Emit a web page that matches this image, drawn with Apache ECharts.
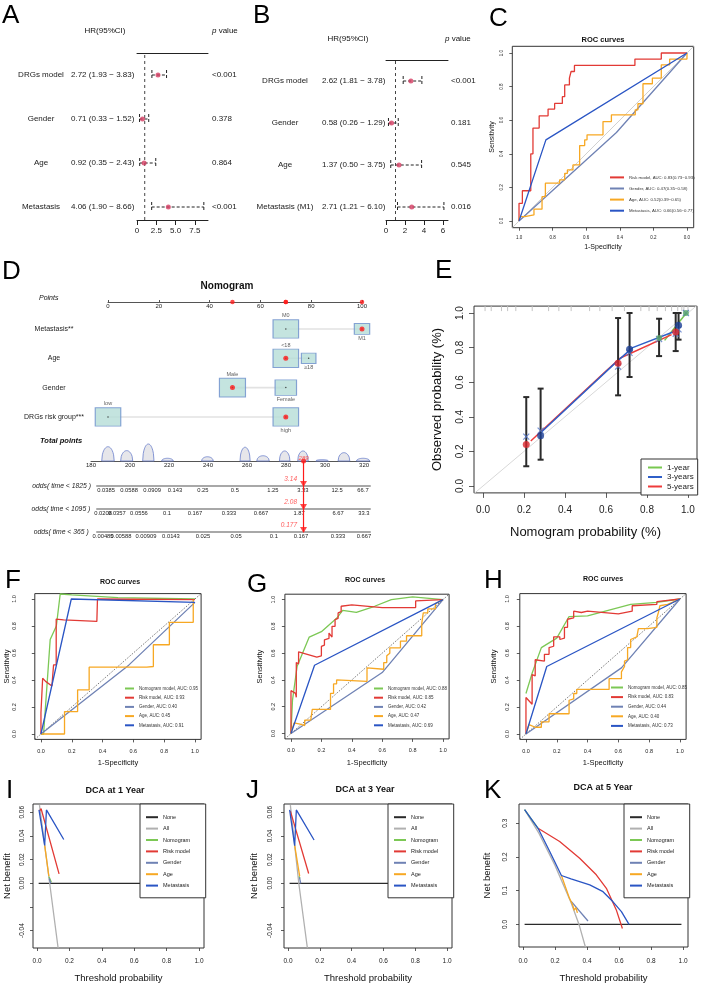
<!DOCTYPE html>
<html>
<head>
<meta charset="utf-8">
<title>DRGs model figure</title>
<script src="https://cdn.jsdelivr.net/npm/echarts@6.0.0/dist/echarts.min.js"></script>
<style>
  html, body { margin: 0; padding: 0; background: #fff; }
  .panel { position: absolute; left: 0; top: 0; width: 709px; height: 993px; }
</style>
</head>
<body>
<div id="pA" class="panel"></div>
<div id="pB" class="panel"></div>
<div id="pC" class="panel"></div>
<div id="pD" class="panel"></div>
<div id="pE" class="panel"></div>
<div id="pF" class="panel"></div>
<div id="pG" class="panel"></div>
<div id="pH" class="panel"></div>
<div id="pI" class="panel"></div>
<div id="pJ" class="panel"></div>
<div id="pK" class="panel"></div>
<script>
"use strict"

// ---- A: univariate cox ----
const uniVars = ['DRGs model', 'Gender', 'Age', 'Metastasis'];
const uniHR = [2.72, 0.71, 0.92, 4.06];
const uniLo = [1.93, 0.33, 0.35, 1.90];
const uniHi = [3.83, 1.52, 2.43, 8.66];
const uniP = ['<0.001', '0.378', '0.864', '<0.001'];

// ---- B: multivariate cox ----
const mulVars = ['DRGs model', 'Gender', 'Age', 'Metastasis (M1)'];
const mulHR = [2.62, 0.58, 1.37, 2.71];
const mulLo = [1.81, 0.26, 0.50, 1.21];
const mulHi = [3.78, 1.29, 3.75, 6.10];
const mulP = ['<0.001', '0.181', '0.545', '0.016'];

// ---- C: ROC (specificity, sensitivity) ----
const cNames = ['Risk model, AUC: 0.83(0.73\u22120.93)', 'Gender, AUC: 0.47(0.35\u22120.58)', 'Age, AUC: 0.52(0.39\u22120.65)', 'Metastasis, AUC: 0.66(0.56\u22120.77)'];
const cRisk = [[1,0],[1,0.105],[0.98,0.105],[0.98,0.18],[0.93,0.18],[0.93,0.40],[0.917,0.40],[0.917,0.553],[0.88,0.553],[0.88,0.626],[0.827,0.626],[0.827,0.666],[0.788,0.666],[0.788,0.70],[0.742,0.70],[0.742,0.74],[0.728,0.74],[0.728,0.81],[0.70,0.81],[0.70,0.85],[0.69,0.85],[0.69,0.89],[0.67,0.89],[0.67,0.926],[0.31,0.926],[0.31,0.964],[0.153,0.964],[0.153,1],[0,1]];
const cGender = [[1,0],[0.42,0.527],[0,1]];
const cAge = [[1,0],[0.996,0],[0.996,0.026],[0.966,0.026],[0.966,0.036],[0.911,0.036],[0.911,0.07],[0.863,0.07],[0.863,0.145],[0.843,0.145],[0.843,0.225],[0.758,0.225],[0.758,0.245],[0.728,0.245],[0.728,0.284],[0.712,0.284],[0.712,0.304],[0.679,0.304],[0.679,0.334],[0.639,0.334],[0.639,0.449],[0.609,0.449],[0.609,0.483],[0.595,0.483],[0.595,0.513],[0.5,0.513],[0.5,0.592],[0.45,0.592],[0.45,0.632],[0.308,0.632],[0.308,0.662],[0.292,0.662],[0.292,0.698],[0.262,0.698],[0.262,0.817],[0.206,0.817],[0.206,0.851],[0.153,0.851],[0.153,0.93],[0.103,0.93],[0.103,0.964],[0,0.964],[0,1]];
const cMeta = [[1,0],[0.84,0.483],[0,1]];

// ---- D: nomogram ----
const nomoVars = ['Metastasis**', 'Age', 'Gender', 'DRGs risk group***'];
const nomoLevels = [['M0', 'M1'], ['<18', '\u226518'], ['Male', 'Female'], ['low', 'high']];
const nomoPoints = [[70, 100], [70, 79], [49, 70], [0, 70]];
const nomoWeight = [[0.85, 0.15], [0.85, 0.12], [0.9, 0.5], [0.85, 0.85]];
const nomoPick = [1, 0, 0, 1];
const totalPoints = 289;
// total points density bumps: centre, half width, relative height
const totalBumps = [[188.7,3.2,0.84],[198.3,3.1,0.61],[209.4,2.9,1.0],[219.2,3.0,0.16],[239.7,3.0,0.25],[259.0,2.6,0.81],[268.2,3.2,0.31],[279.3,2.7,0.59],[288.7,2.7,0.59],[298.5,3.2,0.08],[309.7,3.0,0.49],[319.5,3.4,0.16]];
const oddsRows = ['odds( time < 1825 )', 'odds( time < 1095 )', 'odds( time < 365 )'];
const oddsLabels = [
  ['0.0385','0.0588','0.0909','0.143','0.25','0.5','1.25','3.33','12.5','66.7'],
  ['0.0208','0.0357','0.0556','0.1','0.167','0.333','0.667','1.87','6.67','33.3'],
  ['0.00485','0.00588','0.00909','0.0143','0.025','0.05','0.1','0.167','0.333','0.667']
];
const oddsAt = [
  [187.7,199.5,211.3,223.1,237.4,253.8,273.3,288.7,306.2,319.5],
  [186.2,193.3,204.6,219.0,233.3,250.8,267.2,286.7,306.7,320.0],
  [186.2,195.4,208.2,221.0,237.4,254.4,273.8,287.7,306.7,320.0]
];
const oddsPred = ['3.14', '2.08', '0.177'];

// ---- E: calibration ----
const cal1yObs = [[0.86,0.855],[0.99,1.0]];
const cal3yObs = [[0.281,0.29],[0.715,0.79],[0.954,0.93]];
const cal5yObs = [[0.211,0.24],[0.659,0.71],[0.94,0.89]];
const calCorrected = [[0.211,0.285],[0.281,0.32],[0.659,0.69],[0.715,0.77],[0.859,0.85],[0.94,0.88],[0.954,0.905],[0.99,1.0]];
const calCI = [[0.211,0.114,0.514],[0.281,0.152,0.563],[0.659,0.524,0.971],[0.715,0.63,1.0],[0.859,0.751,0.967],[0.94,0.78,1.0],[0.954,0.846,1.0]];
const cal1yLine = [[0.886,0.842],[0.992,1.0]];
const cal3yLine = [[0.276,0.302],[0.65,0.716],[0.73,0.80],[0.927,0.89]];
const cal5yLine = [[0.233,0.26],[0.60,0.665],[0.67,0.74],[0.92,0.875]];
const calRug = [0.01,0.04,0.09,0.12,0.16,0.24,0.32,0.37,0.43,0.52,0.57,0.63,0.69,0.77,0.81,0.85,0.89,0.92,0.95,0.97,0.98,1.0];

// ---- F/G/H: ROC (1-specificity, sensitivity) ----
const rocNames = ['Nomogram model', 'Risk model', 'Gender', 'Age', 'Metastasis'];
const fAUC = ['0.95', '0.93', '0.40', '0.45', '0.91'];
const fNomo = [[0,0],[0.017,0],[0.06,0.70],[0.1,0.8],[0.125,1.037],[0.2,1.03],[0.5,1.01],[1,1.0]];
const fRisk = [[0,0],[0,0.158],[0.011,0.158],[0.011,0.413],[0.03,0.39],[0.071,0.356],[0.082,0.35],[0.082,0.512],[0.099,0.512],[0.099,0.851],[0.147,0.846],[0.363,0.834],[0.367,1.0],[1,0.995]];
const fGender = [[0,0],[0.57,0.51],[1,0.975]];
const fAge = [[0,0],[0.153,0],[0.153,0.166],[0.238,0.166],[0.238,0.327],[0.313,0.327],[0.313,0.495],[0.687,0.495],[0.73,0.5],[0.73,0.661],[0.834,0.661],[0.834,0.827],[0.989,0.827],[0.989,0.995]];
const fMeta = [[0,0],[0.197,1.0],[1,0.975]];

const gAUC = ['0.88', '0.85', '0.42', '0.47', '0.69'];
const gNomo = [[0,0],[0.01,0.25],[0.04,0.5],[0.12,0.72],[0.2,0.76],[0.3,0.86],[0.34,0.92],[0.43,0.905],[0.55,0.95],[0.66,1.0],[0.8,1.02],[1,1.0]];
const gRisk = [[0,0],[0,0.32],[0.03,0.30],[0.035,0.27],[0.035,0.53],[0.05,0.52],[0.05,0.61],[0.17,0.57],[0.2,0.58],[0.2,0.65],[0.22,0.66],[0.22,0.70],[0.25,0.71],[0.25,0.75],[0.27,0.72],[0.27,0.80],[0.29,0.80],[0.29,0.85],[0.31,0.86],[0.31,0.90],[0.33,0.91],[0.33,0.95],[0.4,0.96],[0.6,0.94],[0.82,0.94],[0.82,0.99],[1,1]];
const gGender = [[0,0],[0.6,0.455],[1,1]];
const gAge = [[0,0],[0.02,0.08],[0.06,0.07],[0.09,0.06],[0.09,0.1],[0.13,0.1],[0.14,0.18],[0.26,0.18],[0.26,0.3],[0.28,0.3],[0.28,0.37],[0.3,0.37],[0.3,0.4],[0.5,0.39],[0.5,0.49],[0.61,0.48],[0.61,0.53],[0.63,0.53],[0.63,0.58],[0.65,0.6],[0.65,0.64],[0.72,0.64],[0.72,0.69],[0.76,0.69],[0.76,0.73],[0.86,0.73],[0.86,0.82],[0.87,0.82],[0.87,0.9],[0.9,0.9],[0.9,0.93],[0.95,0.93],[0.95,0.97],[1,1]];
const gMeta = [[0,0],[0.155,0.51],[1,1]];

const hAUC = ['0.85', '0.83', '0.44', '0.40', '0.73'];
const hNomo = [[0,0.3],[0.04,0.45],[0.1,0.64],[0.2,0.71],[0.28,0.87],[0.4,0.875],[0.68,0.96],[0.85,0.975],[1,1]];
const hRisk = [[0,0],[0,0.27],[0.04,0.22],[0.04,0.44],[0.06,0.43],[0.06,0.55],[0.12,0.54],[0.12,0.59],[0.15,0.59],[0.15,0.64],[0.18,0.65],[0.18,0.72],[0.22,0.72],[0.22,0.70],[0.25,0.71],[0.25,0.79],[0.27,0.79],[0.27,0.85],[0.31,0.86],[0.31,0.91],[0.36,0.9],[0.4,0.91],[0.6,0.89],[0.69,0.91],[0.69,0.95],[0.85,0.96],[0.85,0.98],[1,1]];
const hGender = [[0,0],[0.62,0.49],[1,1]];
const hAge = [[0,0],[0.02,0.07],[0.06,0.05],[0.1,0.05],[0.1,0.09],[0.15,0.09],[0.15,0.15],[0.28,0.15],[0.28,0.25],[0.31,0.26],[0.31,0.3],[0.33,0.3],[0.33,0.33],[0.54,0.33],[0.54,0.41],[0.62,0.41],[0.62,0.46],[0.64,0.5],[0.64,0.54],[0.66,0.55],[0.66,0.64],[0.68,0.64],[0.68,0.7],[0.72,0.72],[0.73,0.78],[0.79,0.78],[0.85,0.79],[0.85,0.86],[0.86,0.9],[0.87,0.95],[0.92,0.96],[1,1]];
const hMeta = [[0,0],[0.135,0.5],[1,1]];

// ---- I/J/K: decision curves (threshold, net benefit) ----
const dcaNames = ['None', 'All', 'Nomogram', 'Risk model', 'Gender', 'Age', 'Metastasis'];
const iNone = [[0.01,0],[0.99,0]];
const iAll = [[0.015,0.066],[0.078,0],[0.13,-0.0547]];
const iNomo = [[0.074,0.0056],[0.088,0.0008]];
const iRisk = [[0.015,0.061],[0.025,0.063],[0.136,0.008]];
const iGender = [[0.075,0.004],[0.085,0.0]];
const iAge = [[0.047,0.032],[0.073,0.006]];
const iMeta = [[0.012,0.062],[0.047,0.032],[0.058,0.062],[0.165,0.037]];

const jNone = [[0.01,0],[0.99,0]];
const jAll = [[0.015,0.066],[0.068,0],[0.122,-0.0547]];
const jNomo = [[0.07,0.006],[0.075,0.004]];
const jRisk = [[0.015,0.061],[0.021,0.062],[0.13,0.0083]];
const jGender = [[0.072,0.005],[0.08,0.0]];
const jAge = [[0.042,0.032],[0.0735,0.006]];
const jMeta = [[0.0105,0.062],[0.042,0.0318],[0.0525,0.062],[0.164,0.0366]];

const kNone = [[0.01,0],[0.99,0]];
const kAll = [[0.01,0.34],[0.1,0.27],[0.2,0.175],[0.3,0.065],[0.35,0.0],[0.39,-0.067]];
const kNomo = [[0.01,0.34],[0.094,0.285]];
const kRisk = [[0.094,0.285],[0.229,0.246],[0.354,0.196],[0.458,0.147],[0.521,0.107],[0.583,0.043],[0.621,-0.012]];
const kGender = [[0.3,0.069],[0.406,0.01]];
const kAge = [[0.24,0.145],[0.29,0.078],[0.31,0.058],[0.32,0.042],[0.33,0.05],[0.34,0.034]];
const kMeta = [[0.01,0.34],[0.094,0.285],[0.167,0.216],[0.24,0.145],[0.3,0.135],[0.417,0.117],[0.5,0.097],[0.5625,0.067],[0.615,0.038],[0.6625,0.0]];

// ---------------- style helpers ----------------
const FONT = '"Liberation Sans", Arial, Helvetica, sans-serif';
const RED = '#e23a35', GREEN = '#7cc855', BLUE = '#2a55c4', SLATE = '#6f82b4', ORANGE = '#f7a823', GREY = '#b0b0b0', BLACK = '#2a2a2a';
const DOT = '#d63d63';
const T5 = [0, 0.2, 0.4, 0.6, 0.8, 1];

function text(t, x, y, size, extra) {
    return {
        type: 'text', x: x, y: y, silent: true, z: 50,
        style: Object.assign({ text: t, fontSize: size, fontFamily: FONT, fill: '#111', align: 'left', verticalAlign: 'middle' }, extra || {})
    };
}
function letter(t, x, y) {
    return text(t, x, y, 26, { verticalAlign: 'top', fill: '#000' });
}
function mk(id, option) {
    const chart = echarts.init(document.getElementById(id));
    option.animation = false;
    option.textStyle = { fontFamily: FONT };
    chart.setOption(option);
    return chart;
}
function rAxis(o) {
    return {
        type: 'value', min: o.min, max: o.max, inverse: !!o.inverse,
        name: o.name, nameLocation: 'middle', nameGap: o.nameGap,
        nameTextStyle: { fontSize: o.nameSize, color: '#111', fontFamily: FONT },
        axisLine: { show: false, onZero: false }, splitLine: { show: false },
        axisTick: { show: true, length: o.tickLen || 3, customValues: o.ticks, lineStyle: { color: '#333', width: 0.8 } },
        axisLabel: { customValues: o.ticks, fontSize: o.size, color: '#222', margin: o.margin, rotate: o.rotate || 0, formatter: o.fmt }
    };
}
const f1 = v => v.toFixed(1);
function frame(l, t, w, h) {
    return { left: l, top: t, width: w, height: h, show: true, borderColor: '#333', borderWidth: 1, backgroundColor: 'transparent', outerBoundsMode: 'none' };
}
function curve(name, data, color, width, extra) {
    return Object.assign({ name: name, type: 'line', data: data, symbol: 'none', showSymbol: false,
        lineStyle: { color: color, width: width }, itemStyle: { color: color } }, extra || {});
}

// ---------------- A & B forest plots ----------------
function forest(id, cfg) {
    const n = cfg.vars.length;
    const rows = cfg.vars.map((v, i) => n - i);
    const hrText = cfg.hr.map((h, i) => h.toFixed(2) + ' (' + cfg.lo[i].toFixed(2) + ' \u2212 ' + cfg.hi[i].toFixed(2) + ')');
    const lab = { fontSize: 8, color: '#1a1a1a', fontFamily: FONT };
    const catAxis = (data, pos, labelOpt) => ({ gridIndex: 0, type: 'category', position: pos, data: data, inverse: true,
        axisLine: { show: false }, axisTick: { show: false }, splitLine: { show: false },
        axisLabel: Object.assign({ interval: 0 }, lab, labelOpt) });
    mk(id, {
        graphic: cfg.texts,
        grid: [
            { left: cfg.left, top: cfg.top, width: cfg.width, height: cfg.band * n, outerBoundsMode: 'none' },
            { left: cfg.left, top: cfg.axisY, width: cfg.width, height: 0, outerBoundsMode: 'none' }
        ],
        xAxis: [
            { gridIndex: 0, type: 'value', min: 0, max: cfg.max, position: 'top',
              axisLine: { lineStyle: { color: '#222', width: 1 } }, axisTick: { show: false }, axisLabel: { show: false }, splitLine: { show: false } },
            { gridIndex: 1, type: 'value', min: 0, max: cfg.max, interval: cfg.step,
              axisLine: { lineStyle: { color: '#222', width: 1 } }, axisTick: { length: 5, lineStyle: { color: '#222' } },
              axisLabel: Object.assign({ margin: 7, showMaxLabel: false, formatter: cfg.fmt }, lab), splitLine: { show: false } }
        ],
        yAxis: [
            { gridIndex: 0, type: 'value', position: 'left', min: 0.5, max: n + 0.5, show: false },
            catAxis(cfg.vars, 'left', { align: 'center', margin: cfg.left - cfg.nameX }),
            catAxis(hrText, 'left', { align: 'left', margin: cfg.left - cfg.hrX }),
            catAxis(cfg.p, 'right', { align: 'left', margin: cfg.pX - cfg.left - cfg.width }),
            { gridIndex: 1, type: 'value', min: 0, max: 1, show: false }
        ],
        series: [
            { type: 'line', xAxisIndex: 0, yAxisIndex: 0, data: [[1, cfg.dashLow], [1, n + 0.5]], symbol: 'none',
              lineStyle: { color: '#444', width: 1, type: [3, 3] } },
            { type: 'custom', xAxisIndex: 0, yAxisIndex: 0, encode: { x: [0, 1], y: 2 },
              data: rows.map((r, i) => [cfg.lo[i], cfg.hi[i], r]),
              renderItem: (params, api) => {
                  const a = api.coord([api.value(0), api.value(2)]);
                  const b = api.coord([api.value(1), api.value(2)]);
                  const st = { stroke: '#222', lineWidth: 1, lineDash: [3, 2] };
                  return { type: 'group', children: [
                      { type: 'line', shape: { x1: a[0], y1: a[1], x2: b[0], y2: b[1] }, style: st },
                      { type: 'line', shape: { x1: a[0], y1: a[1] - 5, x2: a[0], y2: a[1] + 5 }, style: st },
                      { type: 'line', shape: { x1: b[0], y1: b[1] - 5, x2: b[0], y2: b[1] + 5 }, style: st }
                  ] };
              } },
            { type: 'scatter', xAxisIndex: 0, yAxisIndex: 0, data: cfg.hr.map((h, i) => [h, rows[i]]), symbolSize: 5,
              itemStyle: { color: DOT }, z: 5 }
        ]
    });
}

forest('pA', {
    vars: uniVars, hr: uniHR, lo: uniLo, hi: uniHi, p: uniP,
    left: 137, width: 71, max: 9.2, top: 53, band: 44, axisY: 220, step: 2.5, dashLow: 0.705,
    fmt: v => (v === 0 ? '0' : v.toFixed(1)), nameX: 41, hrX: 71, pX: 212,
    texts: [letter('A', 2, 3), text('HR(95%CI)', 105, 31, 8, { align: 'center' }),
            text('{i|p} value', 212, 31, 8, { rich: { i: { fontStyle: 'italic', fontSize: 8, fontFamily: FONT } } })]
});
forest('pB', {
    vars: mulVars, hr: mulHR, lo: mulLo, hi: mulHi, p: mulP,
    left: 386, width: 62, max: 6.53, top: 60, band: 42, axisY: 220, step: 2, dashLow: 0.69,
    fmt: v => String(v), nameX: 285, hrX: 322, pX: 451,
    texts: [letter('B', 253, 3), text('HR(95%CI)', 348, 39, 8, { align: 'center' }),
            text('{i|p} value', 445, 39, 8, { rich: { i: { fontStyle: 'italic', fontSize: 8, fontFamily: FONT } } })]
});

// ---------------- ROC panels ----------------
function roc(id, cfg) {
    const series = [curve('diag', cfg.diag, cfg.diagColor, 0.8, { silent: true, lineStyle: { color: cfg.diagColor, width: 0.8, type: cfg.diagDash } })];
    cfg.names.forEach((nm, i) => series.push(curve(nm, cfg.curves[i], cfg.colors[i], 1.3)));
    mk(id, {
        graphic: cfg.texts,
        grid: frame(cfg.grid[0], cfg.grid[1], cfg.grid[2], cfg.grid[3]),
        legend: { data: cfg.names, orient: 'vertical', left: cfg.leg[0], top: cfg.leg[1], itemWidth: cfg.leg[2], itemHeight: 6,
                  itemGap: cfg.leg[3], padding: 0, itemStyle: { opacity: 0 },
                  textStyle: { fontSize: cfg.leg[4], color: '#333' }, selectedMode: false },
        xAxis: rAxis({ min: -0.04, max: 1.04, inverse: cfg.inverse, ticks: T5, size: cfg.tick, margin: cfg.xm, fmt: f1,
                       name: '1-Specificity', nameSize: cfg.nameSize, nameGap: cfg.xg }),
        yAxis: rAxis({ min: -0.04, max: 1.04, ticks: T5, size: cfg.tick, margin: cfg.ym, rotate: 90, fmt: f1,
                       name: 'Sensitivity', nameSize: cfg.nameSize, nameGap: cfg.yg }),
        series: series
    });
}
const rocColors = [GREEN, RED, SLATE, ORANGE, BLUE];
roc('pC', {
    grid: [512.3, 46.3, 181.4, 181.4], inverse: true,
    diag: [[1.04, -0.04], [-0.04, 1.04]], diagColor: '#c4c4c4', diagDash: 'solid',
    names: cNames, curves: [cRisk, cGender, cAge, cMeta], colors: [RED, SLATE, ORANGE, BLUE],
    leg: [609, 175, 14, 6.3, 4.3], tick: 4.5, xm: 8, ym: 8, xg: 15.5, yg: 16.5, nameSize: 7,
    texts: [letter('C', 489, 6), text('ROC curves', 603, 40, 7.5, { align: 'center', fontWeight: 'bold' })]
});
roc('pF', {
    grid: [34.8, 593.6, 166.3, 145.8],
    diag: [[-0.04, -0.04], [1.04, 1.04]], diagColor: '#555', diagDash: [1.5, 1.5],
    names: rocNames.map((n, i) => n + ', AUC: ' + fAUC[i]), curves: [fNomo, fRisk, fGender, fAge, fMeta], colors: rocColors,
    leg: [124, 686, 9, 4.2, 4.5], tick: 5.5, xm: 9, ym: 17, xg: 20, yg: 20.5, nameSize: 7.5,
    texts: [letter('F', 5, 568), text('ROC curves', 120, 582, 7, { align: 'center', fontWeight: 'bold' })]
});
roc('pG', {
    grid: [284.9, 594.2, 164.2, 144.7],
    diag: [[-0.04, -0.04], [1.04, 1.04]], diagColor: '#555', diagDash: [1.5, 1.5],
    names: rocNames.map((n, i) => n + ', AUC: ' + gAUC[i]), curves: [gNomo, gRisk, gGender, gAge, gMeta], colors: rocColors,
    leg: [373, 686, 9, 4.2, 4.5], tick: 5.5, xm: 9, ym: 8, xg: 20, yg: 21, nameSize: 7.5,
    texts: [letter('G', 247, 572), text('ROC curves', 365, 580, 7, { align: 'center', fontWeight: 'bold' })]
});
roc('pH', {
    grid: [519.8, 593.6, 166.3, 145.8],
    diag: [[-0.04, -0.04], [1.04, 1.04]], diagColor: '#555', diagDash: [1.5, 1.5],
    names: rocNames.map((n, i) => n + ', AUC: ' + hAUC[i]), curves: [hNomo, hRisk, hGender, hAge, hMeta], colors: rocColors,
    leg: [610, 685, 12, 4.6, 4.5], tick: 5.5, xm: 9, ym: 9, xg: 20, yg: 22, nameSize: 7.5,
    texts: [letter('H', 484, 568), text('ROC curves', 603, 579, 7, { align: 'center', fontWeight: 'bold' })]
});

// ---------------- DCA panels ----------------
function dca(id, cfg) {
    const colors = [BLACK, GREY, GREEN, RED, SLATE, ORANGE, BLUE];
    const series = dcaNames.map((nm, i) => curve(nm, cfg.curves[i], colors[i], 1.3, { clip: true }));
    mk(id, {
        graphic: cfg.texts,
        grid: frame(cfg.grid[0], 804, cfg.grid[1], cfg.grid[2]),
        legend: { data: dcaNames, orient: 'vertical', left: cfg.legLeft, top: 804, itemWidth: 12, itemHeight: 8, itemGap: 5,
                  padding: [10, 15.5, 9, 5], backgroundColor: '#fff', borderColor: '#333', borderWidth: 1, borderRadius: 0,
                  itemStyle: { opacity: 0 }, textStyle: { fontSize: 5.5, color: '#222' }, selectedMode: false },
        xAxis: rAxis({ min: -0.025, max: 1.031, ticks: T5, size: 6.5, margin: cfg.xm, fmt: f1,
                       name: 'Threshold probability', nameSize: 9.5, nameGap: cfg.xg }),
        yAxis: rAxis({ min: cfg.ymin, max: cfg.ymax, ticks: cfg.yticks, size: 6.5, margin: cfg.ym, rotate: 90, fmt: cfg.yfmt,
                       name: 'Net benefit', nameSize: 9.5, nameGap: cfg.yg }),
        series: series
    });
}
const smallTicks = [-0.04, -0.02, 0, 0.02, 0.04, 0.06];
const smallFmt = v => (Math.abs(v + 0.02) < 1e-9 ? '' : v.toFixed(2));
dca('pI', {
    grid: [33, 171, 144], legLeft: 140, ymin: -0.0547, ymax: 0.067, yticks: smallTicks, yfmt: smallFmt,
    curves: [iNone, iAll, iNomo, iRisk, iGender, iAge, iMeta], xm: 9.5, xg: 25, ym: 7.5, yg: 21,
    texts: [letter('I', 6, 778), text('DCA at 1 Year', 115, 791, 9, { align: 'center', fontWeight: 'bold' })]
});
dca('pJ', {
    grid: [284, 168, 144], legLeft: 388, ymin: -0.0547, ymax: 0.067, yticks: smallTicks, yfmt: smallFmt,
    curves: [jNone, jAll, jNomo, jRisk, jGender, jAge, jMeta], xm: 9.5, xg: 25, ym: 10.5, yg: 25,
    texts: [letter('J', 246, 778), text('DCA at 3 Year', 365, 790, 9, { align: 'center', fontWeight: 'bold' })]
});
dca('pK', {
    grid: [519, 169, 143], legLeft: 624, ymin: -0.067, ymax: 0.357, yticks: [0, 0.1, 0.2, 0.3], yfmt: f1,
    curves: [kNone, kAll, kNomo, kRisk, kGender, kAge, kMeta], xm: 10.5, xg: 26, ym: 10.5, yg: 27,
    texts: [letter('K', 484, 778), text('DCA at 5 Year', 603, 788, 9, { align: 'center', fontWeight: 'bold' })]
});

// ---------------- E calibration ----------------
mk('pE', {
    graphic: [letter('E', 435, 258)],
    grid: frame(474, 306.1, 223, 186.8),
    legend: { data: ['1-year', '3-years', '5-years'], orient: 'vertical', left: 641, top: 459, itemWidth: 14, itemHeight: 7, itemGap: 1.5,
              padding: [4.5, 4, 4.5, 6], backgroundColor: '#fff', borderColor: '#333', borderWidth: 1, borderRadius: 0,
              itemStyle: { opacity: 0 }, textStyle: { fontSize: 8, color: '#222' }, selectedMode: false },
    xAxis: rAxis({ min: -0.044, max: 1.044, ticks: T5, size: 10, margin: 12, tickLen: 5, fmt: f1,
                   name: 'Nomogram probability (%)', nameSize: 13, nameGap: 33 }),
    yAxis: rAxis({ min: -0.04, max: 1.04, ticks: T5, size: 10, margin: 9, tickLen: 5, rotate: 90, fmt: f1,
                   name: 'Observed probability (%)', nameSize: 13, nameGap: 30 }),
    series: [
        curve('ideal', [[-0.1, -0.1], [1.1, 1.1]], '#d8d8d8', 1, { silent: true, clip: true }),
        { type: 'custom', encode: { x: 0 }, data: calRug.map(x => [x]), clip: false,
          renderItem: (params, api) => {
              const a = api.coord([api.value(0), 1.04]);
              return { type: 'line', shape: { x1: a[0], y1: a[1], x2: a[0], y2: a[1] + 5 }, style: { stroke: '#c4c4c4', lineWidth: 1 } };
          } },
        curve('1-year', cal1yLine, '#78c850', 1.5),
        curve('5-years', cal5yLine, '#ee3b3b', 1.5),
        curve('3-years', cal3yLine, '#2f5fc8', 1.5),
        { type: 'custom', encode: { x: 0, y: [1, 2] }, data: calCI, z: 4,
          renderItem: (params, api) => {
              const lo = api.coord([api.value(0), api.value(1)]);
              const hi = api.coord([api.value(0), api.value(2)]);
              const st = { stroke: '#2b2b2b', lineWidth: 2 };
              return { type: 'group', children: [
                  { type: 'line', shape: { x1: lo[0], y1: lo[1], x2: hi[0], y2: hi[1] }, style: st },
                  { type: 'line', shape: { x1: lo[0] - 3, y1: lo[1], x2: lo[0] + 3, y2: lo[1] }, style: st },
                  { type: 'line', shape: { x1: hi[0] - 3, y1: hi[1], x2: hi[0] + 3, y2: hi[1] }, style: st }
              ] };
          } },
        { name: 'corrected', type: 'scatter', data: calCorrected, symbol: 'path://M0,0L10,10M10,0L0,10', symbolSize: 6, z: 5,
          itemStyle: { color: 'none', borderColor: '#5577c8', borderWidth: 1.2 } },
        { name: 'obs1', type: 'scatter', data: cal1yObs, symbolSize: 6, itemStyle: { color: '#5aa86a' }, z: 6 },
        { name: 'obs5', type: 'scatter', data: cal5yObs, symbolSize: 7, itemStyle: { color: '#d9262c' }, z: 6 },
        { name: 'obs3', type: 'scatter', data: cal3yObs, symbolSize: 7, itemStyle: { color: '#1b3f95' }, z: 6 }
    ]
});

// ---------------- D nomogram ----------------
(function () {
    const nRows = nomoVars.length;
    const rowVal = nomoVars.map((v, i) => nRows - i);
    const boxData = [], dotData = [], pickData = [], linkData = [], axisPick = [];
    nomoLevels.forEach((levs, r) => {
        const pts = nomoPoints[r];
        linkData.push([Math.min.apply(null, pts), Math.max.apply(null, pts), rowVal[r]]);
        levs.forEach((lev, j) => {
            const w = Math.sqrt(nomoWeight[r][j]);
            boxData.push({ value: [pts[j], rowVal[r]], symbolSize: [8 + 19 * w, 5.5 + 14 * w],
                label: { show: true, position: j === 0 ? 'top' : 'bottom', distance: 0.5, formatter: lev, fontSize: 5.5, color: '#333' } });
            dotData.push([pts[j], rowVal[r]]);
            if (nomoPick[r] === j) { pickData.push([pts[j], rowVal[r]]); axisPick.push([pts[j], 0]); }
        });
    });
    const oddsTop = [461, 486, 509], oddsH = [25, 23, 23];
    const hidden = { show: false };
    const grids = [
        { left: 108, top: 302, width: 254, height: 0, outerBoundsMode: 'none' },
        { left: 108, top: 314.3, width: 254, height: 117.3, outerBoundsMode: 'none' },
        { left: 91, top: 444, width: 278.9, height: 17, outerBoundsMode: 'none' }
    ];
    const xAxes = [
        { gridIndex: 0, type: 'value', min: 0, max: 100, interval: 20, splitLine: hidden,
          axisLine: { lineStyle: { color: '#555', width: 1 } }, axisTick: { inside: true, length: 2, lineStyle: { color: '#555' } },
          axisLabel: { fontSize: 6, margin: 1.5, color: '#222' } },
        { gridIndex: 1, type: 'value', min: 0, max: 100, show: false },
        { gridIndex: 2, type: 'value', min: 180, max: 323, interval: 20, splitLine: hidden,
          axisLine: { lineStyle: { color: '#555', width: 1 } }, axisTick: hidden,
          axisLabel: { fontSize: 6, margin: 1, color: '#222', showMaxLabel: false } }
    ];
    const yAxes = [
        { gridIndex: 0, type: 'value', position: 'left', min: 0, max: 1, show: false },
        { gridIndex: 1, type: 'value', position: 'left', min: 0.5, max: nRows + 0.5, show: false },
        { gridIndex: 1, type: 'category', position: 'left', data: nomoVars, inverse: true, axisLine: hidden, axisTick: hidden,
          axisLabel: { align: 'center', margin: 54, fontSize: 7, color: '#222', interval: 0 } },
        { gridIndex: 2, type: 'value', position: 'left', min: 0, max: 1, show: false }
    ];
    const series = [
        { type: 'scatter', xAxisIndex: 0, yAxisIndex: 0, data: axisPick, symbolSize: 4.5, itemStyle: { color: '#ff1a1a' } },
        { type: 'custom', xAxisIndex: 1, yAxisIndex: 1, encode: { x: [0, 1], y: 2 }, data: linkData,
          renderItem: (params, api) => {
              const a = api.coord([api.value(0), api.value(2)]), b = api.coord([api.value(1), api.value(2)]);
              return { type: 'line', shape: { x1: a[0], y1: a[1], x2: b[0], y2: b[1] }, style: { stroke: '#e2e2e2', lineWidth: 1.6 } };
          } },
        { type: 'scatter', xAxisIndex: 1, yAxisIndex: 1, data: boxData, symbol: 'rect',
          itemStyle: { color: '#b5ddd7', borderColor: '#6c8fcc', borderWidth: 1 } },
        { type: 'scatter', xAxisIndex: 1, yAxisIndex: 1, data: dotData, symbolSize: 1.5, itemStyle: { color: '#222' } },
        { type: 'scatter', xAxisIndex: 1, yAxisIndex: 1, data: pickData, symbolSize: 5, itemStyle: { color: '#ff1a1a' } },
        { type: 'custom', xAxisIndex: 2, yAxisIndex: 3, encode: { x: 0, y: 2 }, data: totalBumps, clip: false,
          renderItem: (params, api) => {
              const c = api.value(0), hw = api.value(1), h = api.value(2);
              const pts = [];
              for (let k = 0; k <= 20; k++) {
                  const t = -1 + k / 10;
                  pts.push(api.coord([c + hw * t, h * Math.sqrt(Math.max(0, 1 - t * t))]));
              }
              return { type: 'polygon', shape: { points: pts }, style: { fill: '#e6e6ea', stroke: '#6a7fcc', lineWidth: 0.8 } };
          } },
        { type: 'scatter', xAxisIndex: 2, yAxisIndex: 3, data: [[totalPoints, 0]], symbolSize: 5, z: 6,
          itemStyle: { color: '#ff1a1a' },
          label: { show: true, formatter: String(totalPoints), position: 'inside', offset: [0, -3], fontSize: 6, fontStyle: 'italic', color: '#ff3030' } }
    ];
    // odds scales: even and odd labels on two overlaid axes so crowded labels are all kept
    const oddsAxis = (k, gi, parity, withLine) => {
        const vals = oddsAt[k].filter((p, i) => i % 2 === parity);
        return { gridIndex: gi, type: 'value', position: 'bottom', min: 183.08, max: 323.1, splitLine: hidden,
            name: withLine ? oddsRows[k] : '', nameLocation: 'start', nameGap: 6,
            nameTextStyle: { fontSize: 6.8, fontStyle: 'italic', color: '#222' },
            axisLine: { show: withLine, onZero: false, lineStyle: { color: '#a8a8a8', width: 2 } }, axisTick: hidden,
            axisLabel: { customValues: vals, fontSize: 5.8, margin: 1.5, color: '#222', showMinLabel: true, showMaxLabel: true, hideOverlap: false,
                formatter: v => {
                    let best = 0;
                    oddsAt[k].forEach((p, i) => { if (Math.abs(p - v) < Math.abs(oddsAt[k][best] - v)) best = i; });
                    return oddsLabels[k][best];
                } } };
    };
    oddsRows.forEach((nm, k) => {
        const gi = 3 + k;
        grids.push({ left: 97, top: oddsTop[k], width: 273, height: oddsH[k], outerBoundsMode: 'none' });
        xAxes.push(oddsAxis(k, gi, 0, true));
        const xi = xAxes.length - 1;
        xAxes.push(oddsAxis(k, gi, 1, false));
        yAxes.push({ gridIndex: gi, type: 'value', position: 'left', min: 0, max: 1, show: false });
        const yi = yAxes.length - 1;
        series.push({ type: 'line', xAxisIndex: xi, yAxisIndex: yi, data: [[totalPoints, 1], [totalPoints, 0]], symbol: 'none',
            lineStyle: { color: '#ff1a1a', width: 1.2 }, z: 5 });
        series.push({ type: 'scatter', xAxisIndex: xi, yAxisIndex: yi, data: [[totalPoints, 0]], symbol: 'triangle', symbolRotate: 180,
            symbolSize: [7, 6], symbolOffset: [0, -2], itemStyle: { color: '#ff1a1a' }, z: 6,
            label: { show: true, formatter: oddsPred[k], position: 'left', distance: 3, offset: [0, -5], fontSize: 6.5, fontStyle: 'italic', color: '#ff3030' } });
    });
    mk('pD', {
        graphic: [
            letter('D', 2, 259),
            text('Nomogram', 227, 286, 10, { align: 'center', fontWeight: 'bold' }),
            text('Points', 39, 298, 7, { fontStyle: 'italic' }),
            text('Total points', 40, 441, 7.5, { fontStyle: 'italic', fontWeight: 'bold' })
        ],
        grid: grids, xAxis: xAxes, yAxis: yAxes, series: series
    });
})();
</script>
</body>
</html>
